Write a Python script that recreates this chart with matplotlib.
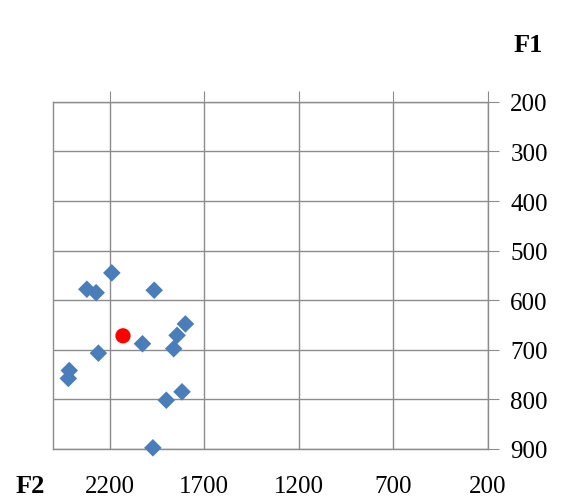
import matplotlib.pyplot as plt

# F2 / F1 formant values
f2_vals = [2189, 2321, 2272, 1965, 1800, 1844, 1862, 2027, 2260, 2414, 2419, 1818, 1901, 1972]
f1_vals = [545, 578, 585, 580, 648, 671, 698, 688, 707, 742, 758, 785, 802, 898]

# highlighted point
f2_red = [2130]
f1_red = [672]

x_ticks = [2200, 1700, 1200, 700, 200]
y_ticks = [200, 300, 400, 500, 600, 700, 800, 900]


def main():
    plt.rcParams['font.family'] = ['Liberation Serif', 'DejaVu Serif']

    fig = plt.figure(figsize=(5.68, 5.02), dpi=100)
    ax = fig.add_axes([0.0933, 0.104, 0.766, 0.691])

    grid_c = '#8c8c8c'
    ax.set_xlim(2500, 200)
    ax.set_ylim(900, 200)
    ax.set_xticks(x_ticks)
    ax.set_yticks(y_ticks)
    ax.grid(True, color=grid_c, linewidth=1.0)
    ax.set_axisbelow(True)

    for sp in ax.spines.values():
        sp.set_color(grid_c)
        sp.set_linewidth(1.0)

    ax.tick_params(axis='x', top=True, bottom=False, labeltop=False,
                   labelbottom=True, direction='out', length=8,
                   color=grid_c, labelsize=18, pad=11)
    ax.tick_params(axis='y', right=True, left=False, labelright=True,
                   labelleft=False, direction='out', length=8,
                   color=grid_c, labelsize=18, pad=8)

    ax.scatter(f2_vals, f1_vals, marker='D', s=80, color='#4a7ebb',
               edgecolors='none', zorder=3, clip_on=False)
    ax.scatter(f2_red, f1_red, marker='o', s=120, color='#ff0000',
               edgecolors='none', zorder=4, clip_on=False)

    fig.text(0.93, 0.91, 'F1', fontsize=19, fontweight='bold',
             ha='center', va='center')
    fig.text(0.053, 0.03, 'F2', fontsize=19, fontweight='bold',
             ha='center', va='center')

    fig.savefig('out.png', dpi=100)


if __name__ == '__main__':
    main()
